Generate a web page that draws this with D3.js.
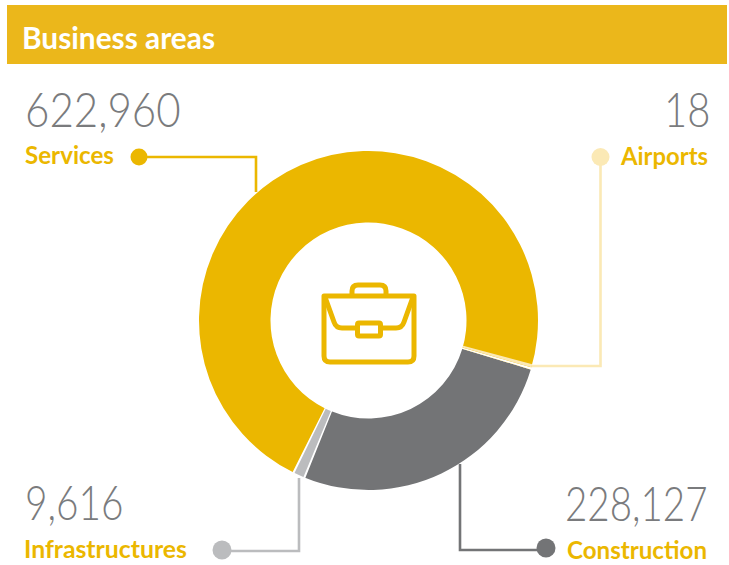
<!DOCTYPE html>
<html><head><meta charset="utf-8">
<script src="https://cdn.jsdelivr.net/npm/d3@7"></script>
<style>html,body{margin:0;padding:0;background:#fff}svg{display:block}text{font-family:Lato,sans-serif}</style>
</head><body><svg id="c" width="729" height="565"></svg>
<script>
const categories = ["Construction","Infrastructures","Services","Airports"];
const values = [228127, 9616, 622960, 18];
const valueLabels = ["228,127","9,616","622,960","18"];
const colors = ["#737476","#BBBCBE","#EBB700","#FBE9B5"];
const labelColor = "#EBB700";
const numberColor = "#7A7B7D";

const svg = d3.select("#c");
const deg = Math.PI/180;
const cx = 368.5, cy = 320.5, R = 169.5, r = 98;

svg.append("rect").attr("x",7).attr("y",5).attr("width",720).attr("height",59).attr("fill","#EBB71B");
svg.append("text").attr("x",22).attr("y",48.5).attr("fill","#fff").attr("font-size",29.5).attr("font-weight",700)
  .attr("textLength",193).attr("lengthAdjust","spacingAndGlyphs").text("Business areas");

const start = 106.8*deg;
const pie = d3.pie().sort(null).value(d=>d).startAngle(start).endAngle(start+2*Math.PI);
const arcs = pie(values);
const arc = d3.arc().innerRadius(r).outerRadius(R);
const g = svg.append("g").attr("transform",`translate(${cx},${cy})`);

const leaders = [
  {i:2, p:[[139,157],[256,157],[256,192]], dot:[139,157], dr:8.5},
  {i:3, p:[[600.5,157],[600.5,366],[532,366]], dot:[600.5,157], dr:9},
  {i:0, p:[[546,550],[460,550],[460,464]], dot:[546,548], dr:9.5},
  {i:1, p:[[222,551],[299,551],[299,478]], dot:[222,550], dr:9.5}
];
leaders.forEach(l=>{
  svg.append("path").attr("d",d3.line()(l.p)).attr("fill","none").attr("stroke",colors[l.i]).attr("stroke-width",2.6);
  svg.append("circle").attr("cx",l.dot[0]).attr("cy",l.dot[1]).attr("r",l.dr).attr("fill",colors[l.i]);
});

g.selectAll("path.seg").data(arcs.slice(0,3)).join("path").attr("class","seg")
  .attr("d",arc).attr("fill",(d,i)=>colors[i]);
// Airports is too small to show at true scale: it gets a minimum visible width
const sliver = 1.1*deg, gap = 0.75*deg;
const a = arcs[3];
g.append("path").attr("d",d3.arc().innerRadius(r-0.5).outerRadius(R+0.5).startAngle(a.endAngle-gap).endAngle(a.endAngle)()).attr("fill","#fff");
g.append("path").attr("d",d3.arc().innerRadius(r).outerRadius(R).startAngle(a.endAngle-gap-sliver).endAngle(a.endAngle-gap)()).attr("fill",colors[3]);
[arcs[1].startAngle, arcs[1].endAngle].forEach(t=>{
  g.append("path").attr("d",d3.arc().innerRadius(r-0.5).outerRadius(R+0.5).startAngle(t-0.35*deg).endAngle(t+0.35*deg)()).attr("fill","#fff");
});

const labels = [
 {i:2,nx:25,ny:127,nk:0.895,lx:25,ly:164,lw:89},
 {i:3,nx:664,ny:127,nk:0.85,lx:621,ly:165,lw:87},
 {i:1,nx:25,ny:520,nk:0.825,lx:24,ly:558,lw:163},
 {i:0,nx:565,ny:521,nk:0.82,lx:567,ly:559,lw:140}
];
labels.forEach(l=>{
  svg.append("text").attr("transform",`translate(${l.nx},${l.ny}) scale(${l.nk},1)`).attr("fill",numberColor)
    .attr("font-size",47).attr("font-weight",300).text(valueLabels[l.i]);
  svg.append("text").attr("x",l.lx).attr("y",l.ly).attr("fill",labelColor)
    .attr("font-size",24).attr("font-weight",700)
    .attr("textLength",l.lw).attr("lengthAdjust","spacingAndGlyphs").text(categories[l.i]);
});

const ic = svg.append("g").attr("fill","none").attr("stroke","#EBB700").attr("stroke-width",5).attr("stroke-linejoin","round");
ic.append("path").attr("d","M324 296H414V356Q414 362 408 362H330Q324 362 324 356Z");
ic.append("path").attr("d","M352 295V291Q352 285 358 285H380Q386 285 386 291V295");
ic.append("path").attr("d","M325 297L334 322Q336 328 342 328H358M380 328H396Q402 328 404 322L413 297");
ic.append("rect").attr("x",357.5).attr("y",323).attr("width",23).attr("height",13).attr("rx",1.5);
</script></body></html>
